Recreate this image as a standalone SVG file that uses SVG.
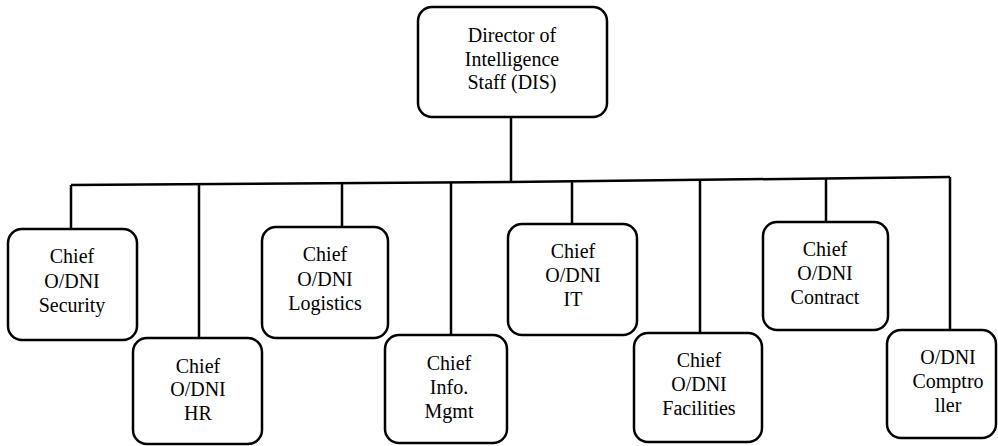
<svg xmlns="http://www.w3.org/2000/svg" width="998" height="446" viewBox="0 0 998 446">
<style>
.box{fill:#fff;stroke:#000;stroke-width:2.5}
.ln{fill:none;stroke:#000;stroke-width:2.5}
text{font-family:'Liberation Serif','Times New Roman',Times,'DejaVu Serif',serif;font-size:20px;fill:#000;text-anchor:middle}
</style>
<rect width="998" height="446" fill="#fff"/>
<g id="connectors">
<line class="ln" x1="511" y1="117" x2="511" y2="182"/>
<polyline class="ln" points="71,185 511,182 950,177"/>
<line class="ln" x1="71" y1="185" x2="71" y2="229"/>
<line class="ln" x1="199" y1="184" x2="199" y2="338"/>
<line class="ln" x1="342" y1="183" x2="342" y2="227"/>
<line class="ln" x1="451" y1="183" x2="451" y2="335"/>
<line class="ln" x1="572" y1="181" x2="572" y2="224"/>
<line class="ln" x1="700" y1="180" x2="700" y2="333"/>
<line class="ln" x1="826" y1="179" x2="826" y2="222"/>
<line class="ln" x1="950" y1="177" x2="950" y2="330"/>
</g>
<g id="dis" font-family="Liberation Serif, serif">
<rect class="box" x="418" y="7" width="189" height="110" rx="14"/>
<text x="512" y="42">Director of</text>
<text x="512" y="66">Intelligence</text>
<text x="512" y="89">Staff (DIS)</text>
</g>
<g id="security">
<rect class="box" x="8" y="229" width="129" height="111" rx="14"/>
<text x="72" y="263">Chief</text>
<text x="72" y="288">O/DNI</text>
<text x="72" y="312">Security</text>
</g>
<g id="hr">
<rect class="box" x="133" y="338" width="129" height="106" rx="14"/>
<text x="198" y="373">Chief</text>
<text x="198" y="396">O/DNI</text>
<text x="198" y="420">HR</text>
</g>
<g id="logistics">
<rect class="box" x="262" y="227" width="126" height="111" rx="14"/>
<text x="325" y="261">Chief</text>
<text x="325" y="286">O/DNI</text>
<text x="325" y="310">Logistics</text>
</g>
<g id="infomgmt">
<rect class="box" x="385" y="335" width="122" height="108" rx="14"/>
<text x="449" y="370">Chief</text>
<text x="449" y="394">Info.</text>
<text x="449" y="418">Mgmt</text>
</g>
<g id="it">
<rect class="box" x="508" y="224" width="129" height="111" rx="14"/>
<text x="573" y="258">Chief</text>
<text x="573" y="282">O/DNI</text>
<text x="573" y="306">IT</text>
</g>
<g id="facilities">
<rect class="box" x="634" y="333" width="128" height="109" rx="14"/>
<text x="699" y="367">Chief</text>
<text x="699" y="391">O/DNI</text>
<text x="699" y="415">Facilities</text>
</g>
<g id="contract">
<rect class="box" x="763" y="222" width="125" height="108" rx="14"/>
<text x="825" y="256">Chief</text>
<text x="825" y="280">O/DNI</text>
<text x="825" y="304">Contract</text>
</g>
<g id="comptroller">
<rect class="box" x="887" y="330" width="109" height="108" rx="14"/>
<text x="948" y="364">O/DNI</text>
<text x="948" y="388">Comptro</text>
<text x="948" y="412">ller</text>
</g>
</svg>
